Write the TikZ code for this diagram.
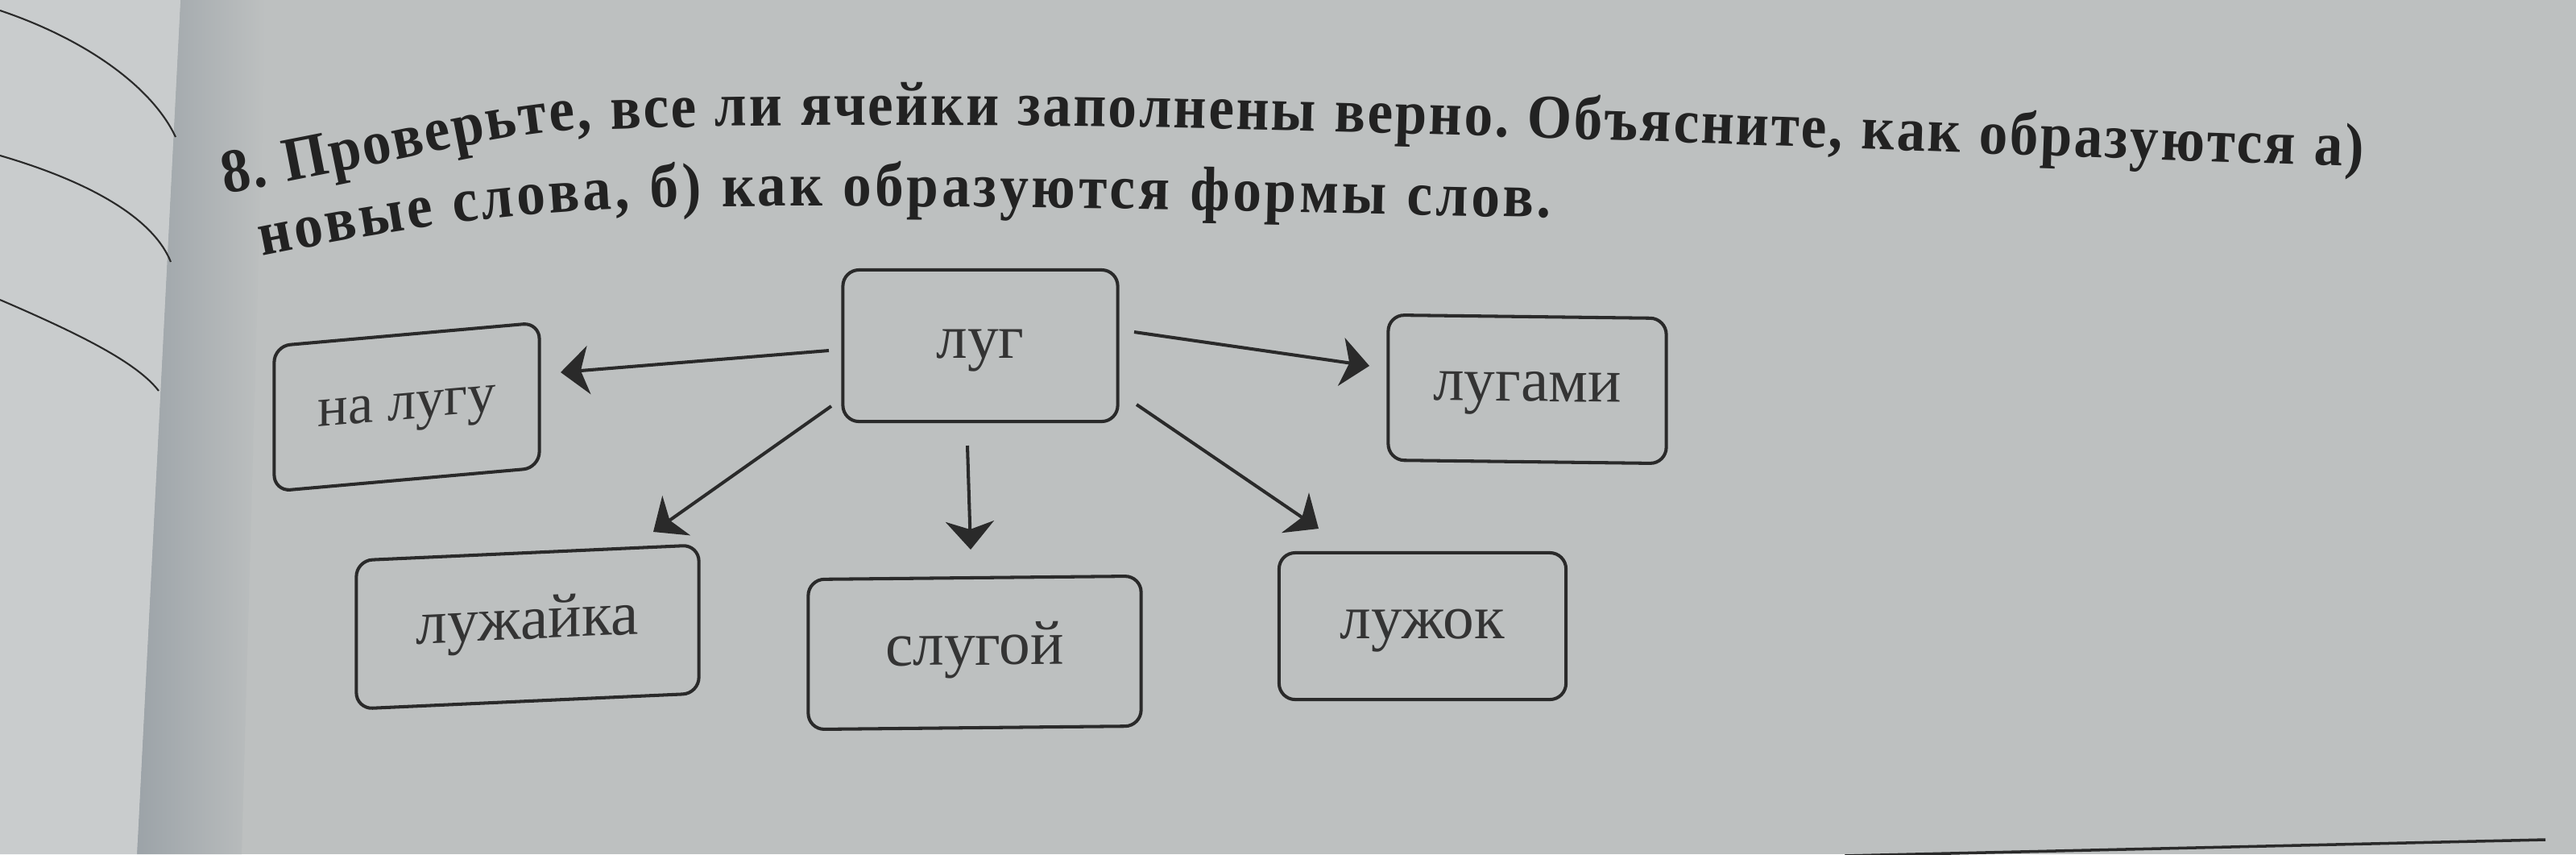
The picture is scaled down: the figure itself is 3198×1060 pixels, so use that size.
\documentclass[tikz,border=0pt]{standalone}
\usepackage{fontspec}
\setmainfont{Liberation Serif}
\newfontfamily\titlef[FakeStretch=0.92, UprightFont={* Bold}]{Liberation Serif}
\usetikzlibrary{arrows.meta,calc,decorations.text}
\definecolor{paper}{RGB}{189,192,192}
\definecolor{paperL}{RGB}{201,204,205}
\definecolor{gutter}{RGB}{156,163,168}
\definecolor{ink}{RGB}{34,34,34}
\definecolor{lineink}{RGB}{42,42,42}
\newcommand{\titlefont}{\fontsize{22}{26}\selectfont\titlef\color{ink}}
\begin{document}
\begin{tikzpicture}[x=0.01cm,y=-0.01cm,
  wbox/.style={draw=lineink, line width=1.15pt, rounded corners=0.2cm, inner sep=0pt,
    font=\fontsize{22}{26}\selectfont, text=ink!92, text height=0.5cm, text depth=0.2cm},
  arr/.style={draw=lineink, line width=1.15pt, -{Stealth[length=0.35cm,width=0.6cm,inset=0.1cm]}},
  pageline/.style={draw=lineink, line width=0.6pt}]

% paper
\fill[paper] (0,0) rectangle (3198,1060);
\useasboundingbox (0,0) rectangle (3198,1060);
\shade[left color=gutter, right color=paper] (224,0) -- (330,0) -- (300,1060) -- (170,1060) -- cycle;
\fill[paperL] (0,0) -- (224,0) -- (170,1060) -- (0,1060) -- cycle;

% lines on the facing page
\draw[pageline] (0,13) .. controls (110,50) and (190,110) .. (218,170);
\draw[pageline] (0,193) .. controls (110,225) and (190,270) .. (212,325);
\draw[pageline] (0,372) .. controls (100,415) and (170,450) .. (197,485);

% bottom rule
\draw[lineink, line width=1pt] (2290,1062) -- (3160,1042);

% title
\path[decorate, decoration={text along path, text align=fit to path,
  text={|\titlefont|8. Проверьте, все ли ячейки заполнены верно. Объясните, как образуются а)}}]
  (279,240) .. controls (480,205) and (600,170) .. (700,162)
  .. controls (1300,140) and (2000,175) .. (2931,207);
\path[decorate, decoration={text along path, text align=fit to path,
  text={|\titlefont|новые слова, б) как образуются формы слов.}}]
  (325,318) .. controls (560,270) and (700,258) .. (900,256)
  .. controls (1300,254) and (1600,264) .. (1925,270);

% boxes
\node[wbox, minimum width=3.41cm, minimum height=1.88cm] (lug) at (1217,429) {луг};
\node[wbox, minimum width=3.29cm, minimum height=1.80cm, yslant=0.088,
  font=\fontsize{20}{24}\selectfont] (nalugu) at (505,505) {на лугу};
\node[wbox, minimum width=3.45cm, minimum height=1.80cm, yslant=-0.012] (lugami) at (1896,483) {лугами};
\node[wbox, minimum width=4.25cm, minimum height=1.84cm, yslant=0.045] (luzh) at (655,778) {лужайка};
\node[wbox, minimum width=4.13cm, minimum height=1.86cm, yslant=0.01] (slug) at (1210,810) {слугой};
\node[wbox, minimum width=3.56cm, minimum height=1.82cm] (luzhok) at (1766,777) {лужок};

% arrows
\draw[arr] ($(lug)+(-188,6)$) -- ($(nalugu)+(191,-43)$);
\draw[arr] ($(lug)+(191,-17)$) -- ($(lugami)+(-196,-29)$);
\draw[arr] ($(lug)+(-185,75)$) -- ($(luzh)+(156,-118)$);
\draw[arr] ($(lug)+(-16,124)$) -- ($(slug)+(-5,-128)$);
\draw[arr] ($(lug)+(194,73)$) -- ($(luzhok)+(-129,-121)$);
\end{tikzpicture}
\end{document}
